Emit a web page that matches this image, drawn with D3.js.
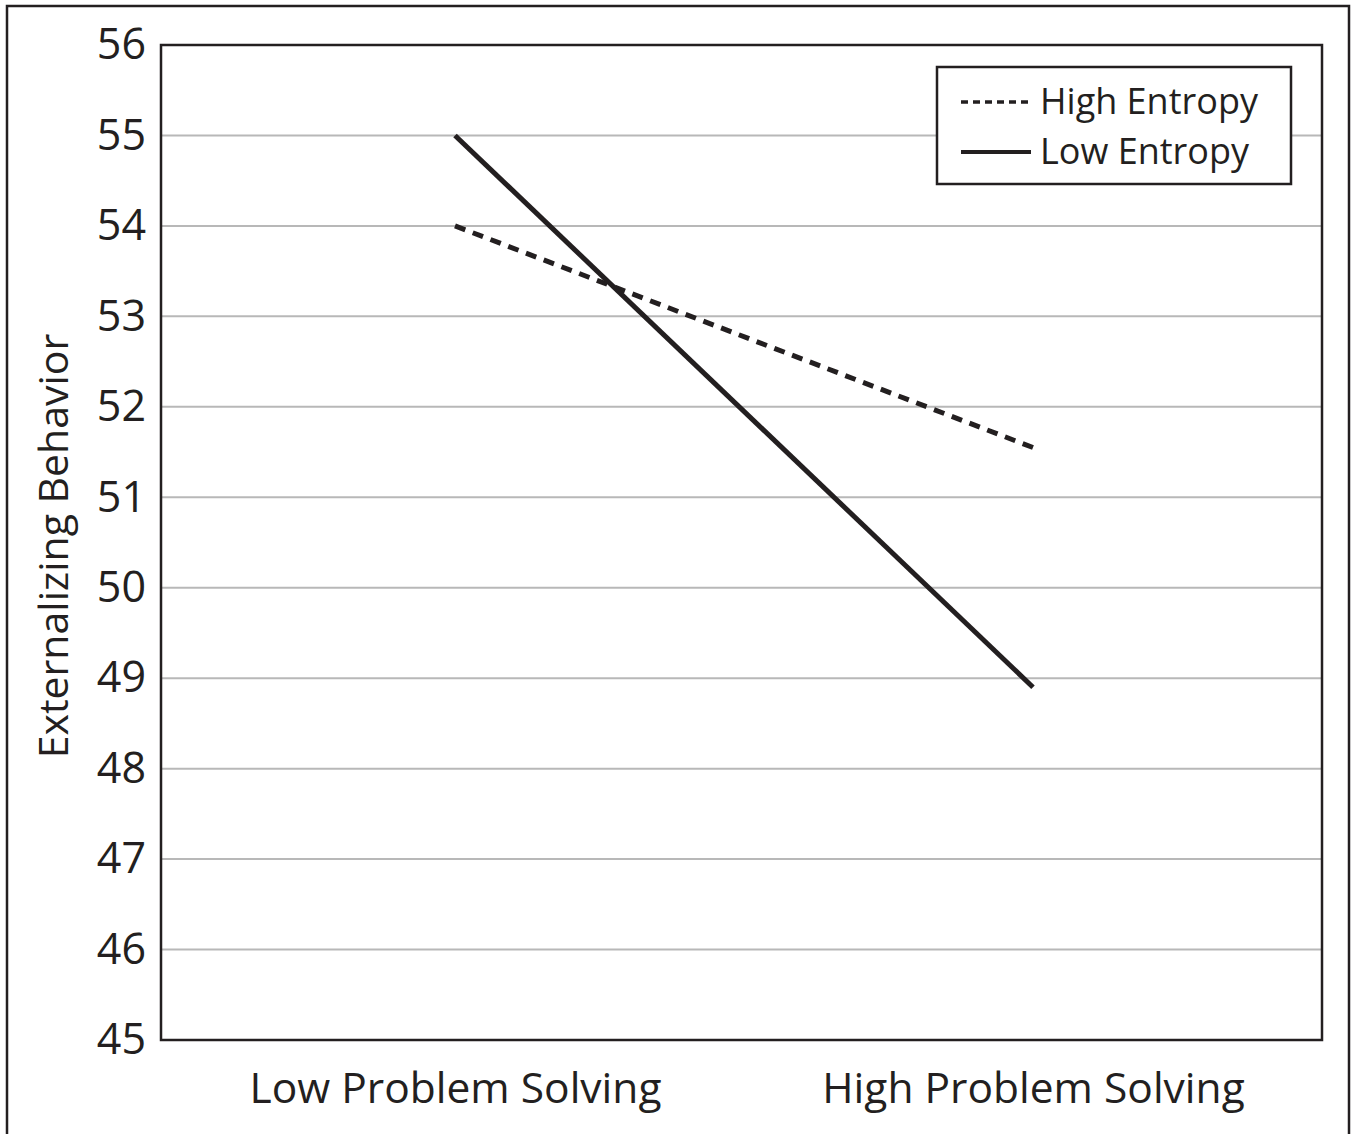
<!DOCTYPE html>
<html><head><meta charset="utf-8">
<script src="https://cdn.jsdelivr.net/npm/d3@7"></script>
<style>body{margin:0;background:#fff}svg{display:block}text{font-family:"Open Sans",sans-serif;fill:#231f20}</style>
</head><body><svg id="c" width="1357" height="1134"></svg>
<script>
const categories = ["Low Problem Solving", "High Problem Solving"];
const highEntropy = [54.0, 51.55];
const lowEntropy = [55.0, 48.9];
const yTicks = [45, 46, 47, 48, 49, 50, 51, 52, 53, 54, 55, 56];
const seriesNames = ["High Entropy", "Low Entropy"];

const svg = d3.select("#c");
const ink = "#231f20";
const L = 161, R = 1322, T = 45, B = 1040;
svg.append("rect").attr("width",1357).attr("height",1134).attr("fill","#fff");
// outer border
svg.append("rect").attr("x",7).attr("y",6).attr("width",1342).attr("height",1200)
  .attr("fill","none").attr("stroke",ink).attr("stroke-width",2.5);

const x = d3.scalePoint().domain(categories).range([166, R]).padding(0.5);
const y = d3.scaleLinear().domain([45,56]).range([B, T]);

// gridlines
svg.append("g").selectAll("line").data(yTicks.slice(1,-1)).join("line")
  .attr("x1",L).attr("x2",R).attr("y1",d=>y(d)).attr("y2",d=>y(d))
  .attr("stroke","#b8b8b8").attr("stroke-width",2);

// y axis labels
const yAxis = d3.axisLeft(y).tickValues(yTicks).tickSize(0).tickPadding(15).tickFormat(d3.format("d"));
const ga = svg.append("g").attr("transform",`translate(${L},0)`).call(yAxis);
ga.select(".domain").remove();
ga.selectAll("text").attr("font-size",43).attr("fill",ink).attr("font-family","Open Sans, sans-serif");

// x axis labels
const xAxis = d3.axisBottom(x).tickSize(0).tickPadding(33);
const gx = svg.append("g").attr("transform",`translate(0,${B})`).call(xAxis);
gx.select(".domain").remove();
gx.selectAll("text").attr("font-size",42.5).attr("fill",ink).attr("font-family","Open Sans, sans-serif");

// frame
svg.append("rect").attr("x",L).attr("y",T).attr("width",R-L).attr("height",B-T)
  .attr("fill","none").attr("stroke",ink).attr("stroke-width",2.5);

// y title
svg.append("text").attr("transform",`translate(68,546) rotate(-90)`).attr("text-anchor","middle")
  .attr("font-size",41).text("Externalizing Behavior");

// lines
const line = d3.line().x((d,i)=>x(categories[i])).y(d=>y(d));
svg.append("path").datum(highEntropy).attr("d",line).attr("fill","none")
  .attr("stroke",ink).attr("stroke-width",5).attr("stroke-dasharray","11,8");
svg.append("path").datum(lowEntropy).attr("d",line).attr("fill","none")
  .attr("stroke",ink).attr("stroke-width",5);

// legend
const lg = svg.append("g");
lg.append("rect").attr("x",937).attr("y",67).attr("width",354).attr("height",117)
  .attr("fill","#fff").attr("stroke",ink).attr("stroke-width",2.5);
const ly = [102, 152];
seriesNames.forEach((n,i)=>{
  lg.append("line").attr("x1",961).attr("x2",1031).attr("y1",ly[i]).attr("y2",ly[i])
    .attr("stroke",ink).attr("stroke-width",i===0 ? 3.5 : 4)
    .attr("stroke-dasharray", i===0 ? "7,5" : null);
  lg.append("text").attr("x",1040).attr("y",ly[i]+12).attr("font-size",36).text(n);
});
</script></body></html>
